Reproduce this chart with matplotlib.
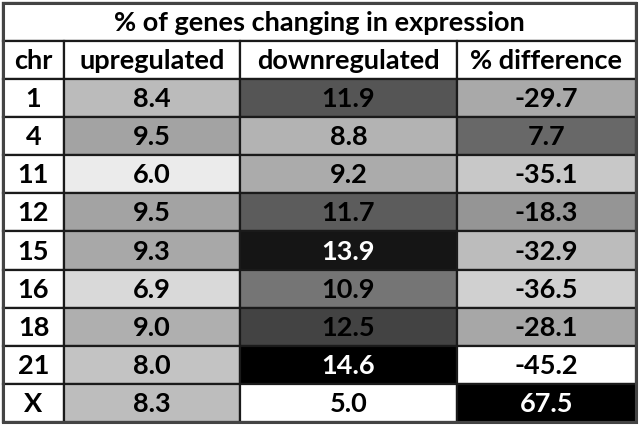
import matplotlib
matplotlib.use("Agg")
import matplotlib.pyplot as plt
import numpy as np
from matplotlib.colors import LinearSegmentedColormap, TwoSlopeNorm
from matplotlib.patches import Rectangle

title = "% of genes changing in expression"
headers = ["chr", "upregulated", "downregulated", "% difference"]
chromosomes = ["1", "4", "11", "12", "15", "16", "18", "21", "X"]
upregulated = [8.4, 9.5, 6.0, 9.5, 9.3, 6.9, 9.0, 8.0, 8.3]
downregulated = [11.9, 8.8, 9.2, 11.7, 13.9, 10.9, 12.5, 14.6, 5.0]
pct_difference = [-29.7, 7.7, -35.1, -18.3, -32.9, -36.5, -28.1, -45.2, 67.5]

# layout (pixels)
W, H = 640, 426
col_edges = [3, 64, 240, 457, 636]
top, title_bottom, header_bottom, bottom = 3, 41, 79, 422

plt.rcParams['font.family'] = ['Lato', 'DejaVu Sans']
fig = plt.figure(figsize=(W / 100, H / 100), dpi=100)
ax = fig.add_axes([0, 0, 1, 1])
ax.set_xlim(0, W)
ax.set_ylim(H, 0)
ax.axis('off')

cmap = LinearSegmentedColormap.from_list('g', ['#ffffff', '#aaaaaa', '#000000'])

def make_norm(vals):
    v = np.asarray(vals)
    return TwoSlopeNorm(vcenter=np.median(v), vmin=v.min(), vmax=v.max())

norm_ud = make_norm(upregulated + downregulated)
norm_pd = make_norm(pct_difference)

fs = 19.5
lw = 1.6
lc = '#1a1a1a'

def cell(x0, x1, y0, y1, text, face='white', tcolor='black'):
    ax.add_patch(Rectangle((x0, y0), x1 - x0, y1 - y0, facecolor=face,
                           edgecolor=lc, linewidth=lw))
    ax.text((x0 + x1) / 2, (y0 + y1) / 2 + 1, text, ha='center', va='center',
            fontsize=fs, fontweight='bold', color=tcolor)

# title row
cell(col_edges[0], col_edges[-1], top, title_bottom, title)
# header row
for i, h in enumerate(headers):
    cell(col_edges[i], col_edges[i + 1], title_bottom, header_bottom, h)

nrows = len(chromosomes)
rh = (bottom - header_bottom) / nrows
columns = [upregulated, downregulated, pct_difference]
norms = [norm_ud, norm_ud, norm_pd]
for r, chrom in enumerate(chromosomes):
    y0 = header_bottom + r * rh
    y1 = y0 + rh
    cell(col_edges[0], col_edges[1], y0, y1, chrom)
    for c, (vals, nm) in enumerate(zip(columns, norms)):
        v = vals[r]
        rgba = cmap(nm(v))
        lum = rgba[0]
        tcol = 'white' if lum < 0.2 else 'black'
        cell(col_edges[c + 1], col_edges[c + 2], y0, y1, f"{v:.1f}", face=rgba, tcolor=tcol)

ax.add_patch(Rectangle((col_edges[0], top), col_edges[-1] - col_edges[0], bottom - top,
                       facecolor='none', edgecolor='#444444', linewidth=2.2))

fig.savefig('out.png', dpi=100)
